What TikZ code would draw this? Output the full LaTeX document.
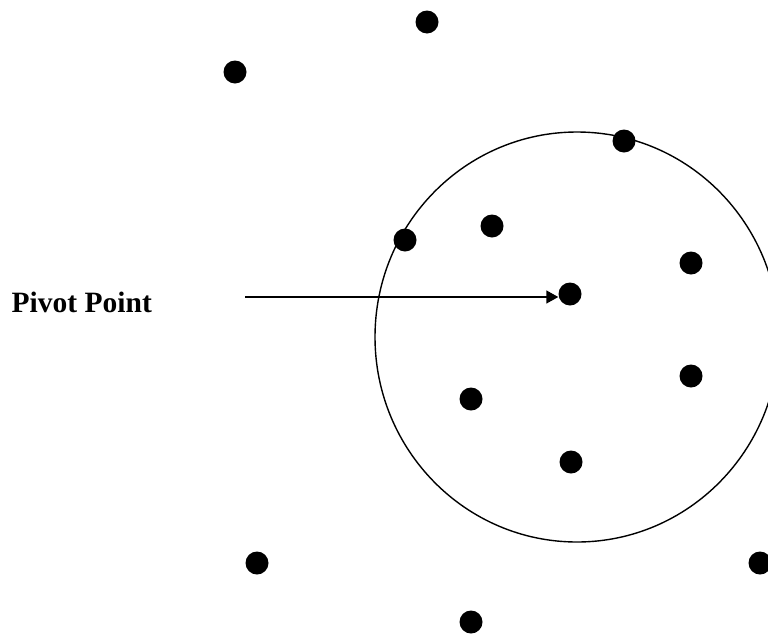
\documentclass[tikz,border=0pt]{standalone}
\usepackage{fontspec}
\setmainfont{Liberation Serif}
\usetikzlibrary{arrows.meta}
\begin{document}
\begin{tikzpicture}[x=1pt,y=-1pt,
  dot/.style={circle,fill=black,draw=none,minimum size=23pt,inner sep=0pt},
  lbl/.style={font=\fontsize{29.5}{35}\selectfont\bfseries,inner sep=0pt,anchor=base west}]
\useasboundingbox (0,0) rectangle (768,635);
\draw[line width=1.4pt] (577,337) ellipse [x radius=202pt, y radius=205pt];
\node[dot] (d1) at (427,22) {};
\node[dot] (d2) at (235,72) {};
\node[dot] (d3) at (624,141) {};
\node[dot] (d4) at (405,240) {};
\node[dot] (d5) at (492,226) {};
\node[dot] (d6) at (691,263) {};
\node[dot] (pivot) at (570,294) {};
\node[dot] (d8) at (691,376) {};
\node[dot] (d9) at (471,399) {};
\node[dot] (d10) at (571,462) {};
\node[dot] (d11) at (257,563) {};
\node[dot] (d12) at (760,563) {};
\node[dot] (d13) at (471,622) {};
\node[lbl] (label) at (11.5,312) {Pivot Point};
\coordinate (astart) at (245,297);
\draw[line width=1.4pt,-{Triangle[length=12pt,width=13pt]}] (astart) -- (pivot.west |- astart);
\end{tikzpicture}
\end{document}
